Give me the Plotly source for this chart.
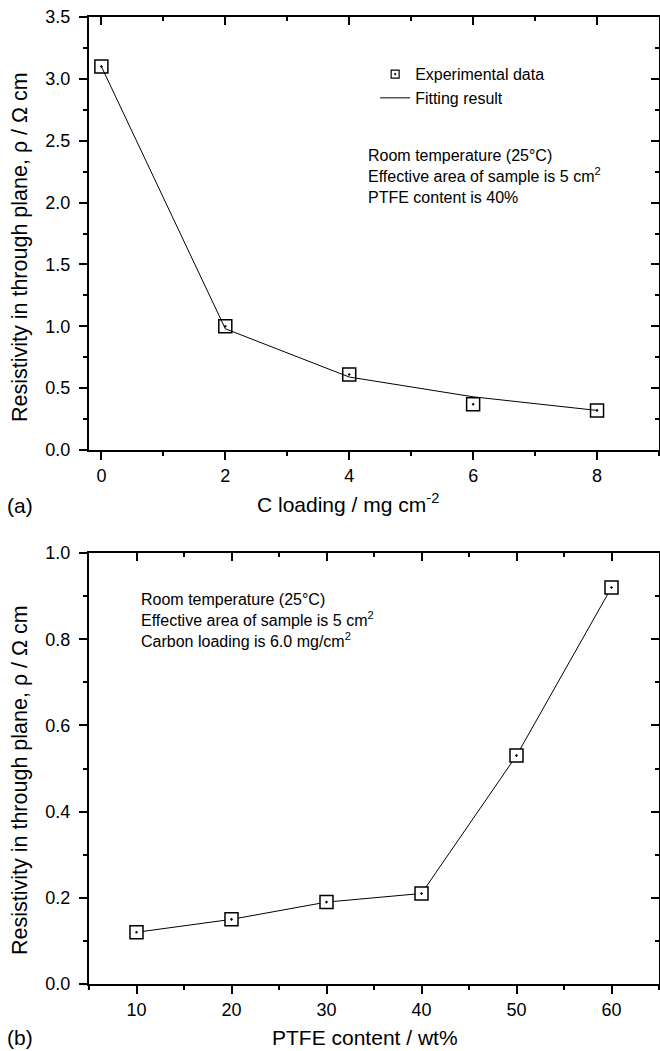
import plotly.graph_objects as go

# ---- data ----
c_loading = [0, 2, 4, 6, 8]
rho_a_exp = [3.10, 1.00, 0.61, 0.37, 0.32]
rho_a_fit = [3.10, 0.98, 0.59, 0.43, 0.32]

ptfe_content = [10, 20, 30, 40, 50, 60]
rho_b_exp = [0.12, 0.15, 0.19, 0.21, 0.53, 0.92]

FONT = "Liberation Sans, Arial, Helvetica, sans-serif"
BLACK = "#000000"

fig = go.Figure()

marker_style = dict(symbol="square-dot", size=13, color="white",
                    line=dict(color=BLACK, width=1.5))

# Panel (a)
fig.add_trace(go.Scatter(x=c_loading, y=rho_a_exp, mode="markers",
                         marker=marker_style, showlegend=False,
                         xaxis="x", yaxis="y"))
fig.add_trace(go.Scatter(x=c_loading, y=rho_a_fit, mode="lines",
                         line=dict(color=BLACK, width=1), showlegend=False,
                         xaxis="x", yaxis="y"))
# legend entries
fig.add_trace(go.Scatter(x=[None], y=[None], mode="markers", name="Experimental data",
                         marker=dict(symbol="square-dot", size=8, color="white",
                                     line=dict(color=BLACK, width=1.2)),
                         xaxis="x", yaxis="y"))
fig.add_trace(go.Scatter(x=[None], y=[None], mode="lines", name="Fitting result",
                         line=dict(color=BLACK, width=1), xaxis="x", yaxis="y"))

# Panel (b)
fig.add_trace(go.Scatter(x=ptfe_content, y=rho_b_exp, mode="lines+markers",
                         marker=marker_style, line=dict(color=BLACK, width=1),
                         showlegend=False, xaxis="x2", yaxis="y2"))

# invisible traces to activate mirrored (top/right) axes
for xa, ya in [("x3", "y"), ("x", "y3"), ("x4", "y2"), ("x2", "y4")]:
    fig.add_trace(go.Scatter(x=[None], y=[None], xaxis=xa, yaxis=ya,
                             showlegend=False, hoverinfo="skip"))

dom_a = [0.5522, 1.0]
dom_b = [0.0, 0.4457]

def base_axis(**kw):
    d = dict(showline=True, linewidth=2, linecolor=BLACK, showgrid=False,
             zeroline=False, ticklen=8, tickwidth=2, tickcolor=BLACK,
             tickfont=dict(family=FONT, size=18, color=BLACK))
    d.update(kw)
    return d

def minor(dt, side):
    return dict(dtick=dt, tick0=0, ticklen=4, tickwidth=2, ticks=side, tickcolor=BLACK)

fig.update_layout(
    width=660, height=1051,
    margin=dict(l=89, r=1, t=17, b=67),
    paper_bgcolor="white", plot_bgcolor="white",
    font=dict(family=FONT, color=BLACK),
    xaxis=base_axis(domain=[0, 1], anchor="y", range=[-0.2, 9], tick0=0, dtick=2,
                    ticks="outside", minor=minor(1, "outside")),
    xaxis3=base_axis(overlaying="x", anchor="y", side="top", range=[-0.2, 9],
                     tick0=0, dtick=2, ticks="inside", showticklabels=False,
                     minor=minor(1, "inside")),
    yaxis=base_axis(domain=dom_a, anchor="x", range=[0, 3.5], tick0=0, dtick=0.5,
                    tickformat=".1f", ticks="outside", ticklabelstandoff=5,
                    minor=minor(0.25, "outside")),
    yaxis3=base_axis(overlaying="y", anchor="x", side="right", range=[0, 3.5],
                     tick0=0, dtick=0.5, ticks="inside", showticklabels=False,
                     minor=minor(0.25, "inside")),
    xaxis2=base_axis(domain=[0, 1], anchor="y2", range=[5, 65], tick0=0, dtick=10,
                     ticks="outside", minor=minor(5, "outside")),
    xaxis4=base_axis(overlaying="x2", anchor="y2", side="top", range=[5, 65],
                     tick0=0, dtick=10, ticks="inside", showticklabels=False,
                     minor=minor(5, "inside")),
    yaxis2=base_axis(domain=dom_b, anchor="x2", range=[0, 1.0], tick0=0, dtick=0.2,
                     tickformat=".1f", ticks="outside", ticklabelstandoff=5,
                     minor=minor(0.1, "outside")),
    yaxis4=base_axis(overlaying="y2", anchor="x2", side="right", range=[0, 1.0],
                     tick0=0, dtick=0.2, ticks="inside", showticklabels=False,
                     minor=minor(0.1, "inside")),
    legend=dict(x=0.502, y=0.9585, xanchor="left", yanchor="top",
                bgcolor="rgba(0,0,0,0)", borderwidth=0,
                font=dict(family=FONT, size=16, color=BLACK)),
    showlegend=True,
)

def px_x(px):
    return (px - 89) / 570.0

def px_y(py):
    return (1051 - 67 - py) / 967.0

ann = [
    dict(text="Resistivity in through plane, ρ / Ω cm", x=px_x(20), y=px_y(247),
         textangle=-90, font=dict(size=21.5)),
    dict(text="Resistivity in through plane, ρ / Ω cm", x=px_x(20), y=px_y(780),
         textangle=-90, font=dict(size=21.5)),
    dict(text="C loading / mg cm<sup>-2</sup>", x=px_x(348), y=px_y(503),
         font=dict(size=21)),
    dict(text="PTFE content / wt%", x=px_x(365), y=px_y(1037),
         font=dict(size=21)),
    dict(text="(a)", x=px_x(20), y=px_y(505), font=dict(size=21)),
    dict(text="(b)", x=px_x(20), y=px_y(1037), font=dict(size=21)),
]
for a in ann:
    a.update(xref="paper", yref="paper", showarrow=False,
             xanchor="center", yanchor="middle")
    a["font"].update(family=FONT, color=BLACK)
    fig.add_annotation(**a)

fig.add_annotation(
    text="Room temperature (25°C)<br>Effective area of sample is 5 cm<sup>2</sup><br>PTFE content is 40%",
    xref="paper", yref="paper", x=px_x(366), y=px_y(176),
    xanchor="left", yanchor="middle", align="left", showarrow=False,
    font=dict(family=FONT, size=16, color=BLACK))
fig.add_annotation(
    text="Room temperature (25°C)<br>Effective area of sample is 5 cm<sup>2</sup><br>Carbon loading is 6.0 mg/cm<sup>2</sup>",
    xref="paper", yref="paper", x=px_x(139), y=px_y(620),
    xanchor="left", yanchor="middle", align="left", showarrow=False,
    font=dict(family=FONT, size=16, color=BLACK))

fig.write_html("out.html")
